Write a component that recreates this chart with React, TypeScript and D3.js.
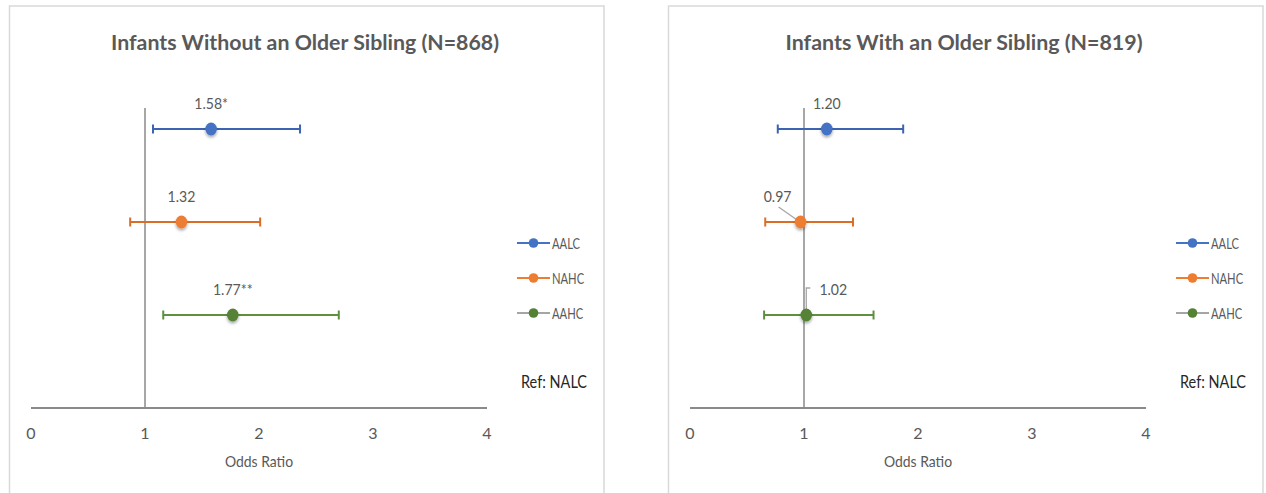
import React from "react";
import * as d3 from "d3";

// ---- data ----
const groups = ["AALC", "NAHC", "AAHC"];
const rowLevels = [3, 2, 1];
const xTicks = [0, 1, 2, 3, 4];
const refLevel = 1;

const titleWithout = "Infants Without an Older Sibling (N=868)";
const orWithout = [1.58, 1.32, 1.77];
const lowerWithout = [1.07, 0.87, 1.16];
const upperWithout = [2.36, 2.01, 2.7];
const labelsWithout = ["1.58*", "1.32", "1.77**"];

const titleWith = "Infants With an Older Sibling (N=819)";
const orWith = [1.2, 0.97, 1.02];
const lowerWith = [0.77, 0.66, 0.65];
const upperWith = [1.87, 1.43, 1.61];
const labelsWith = ["1.20", "0.97", "1.02"];

const xAxisTitle = "Odds Ratio";
const refNote = "Ref: NALC";

// ---- styles ----
const markerColors = ["#4472C4", "#ED7D31", "#548235"];
const barColors = ["#3C64B0", "#DA6E26", "#5E9040"];
const legendLineColors = ["#4472C4", "#ED7D31", "#A5A5A5"];
const FONT = "Lato, 'Open Sans', sans-serif";
const TEXT = "#595959";

type LabelStyle = { dx: number; leader?: "diag" | "elbow" };

type PanelProps = {
  x0: number;
  title: string;
  titleLen: number;
  or: number[];
  lower: number[];
  upper: number[];
  labels: string[];
  labelStyles: LabelStyle[];
  fid: string;
};

function Panel({ x0, title, titleLen, or, lower, upper, labels, labelStyles, fid }: PanelProps) {
  const x = d3.scaleLinear().domain([0, 4]).range([x0 + 31, x0 + 487]);
  const y = d3.scaleLinear().domain([0, 4]).range([408, 36]);
  const axisY = y(0);
  const legendYs = [243, 278, 313];
  return (
    <g>
      <rect x={x0 + 9.5} y={6} width={594.5} height={500} fill="#fff" stroke="#d9d9d9" strokeWidth={1.5} />
      <text
        x={x0 + 305}
        y={50}
        textAnchor="middle"
        fontFamily={FONT}
        fontWeight={700}
        fontSize={21}
        fill={TEXT}
        textLength={titleLen}
        lengthAdjust="spacingAndGlyphs"
      >
        {title}
      </text>
      {/* reference line */}
      <line x1={x(refLevel)} x2={x(refLevel)} y1={108} y2={axisY} stroke="#8a8a8a" strokeWidth={1.5} />
      {/* x axis */}
      <line x1={x(0)} x2={x(4)} y1={axisY} y2={axisY} stroke="#8a8a8a" strokeWidth={2} />
      {xTicks.map((t) => (
        <text key={t} x={x(t)} y={439} textAnchor="middle" fontFamily={FONT} fontSize={16} fill={TEXT}>
          {t}
        </text>
      ))}
      <text
        transform={`translate(${x(2)},467) scale(0.87,1)`}
        textAnchor="middle"
        fontFamily={FONT}
        fontSize={16}
        fill={TEXT}
      >
        {xAxisTitle}
      </text>
      {/* error bars */}
      {groups.map((g, i) => {
        const cy = y(rowLevels[i]);
        const c = barColors[i];
        return (
          <g key={g}>
            <line x1={x(lower[i])} x2={x(upper[i])} y1={cy} y2={cy} stroke={c} strokeWidth={2} />
            <line x1={x(lower[i])} x2={x(lower[i])} y1={cy - 4.5} y2={cy + 4.5} stroke={c} strokeWidth={2} />
            <line x1={x(upper[i])} x2={x(upper[i])} y1={cy - 4.5} y2={cy + 4.5} stroke={c} strokeWidth={2} />
          </g>
        );
      })}
      {/* leaders */}
      {groups.map((g, i) => {
        const cy = y(rowLevels[i]);
        const cx = x(or[i]);
        const ls = labelStyles[i];
        if (ls.leader === "diag") {
          return <line key={g} x1={cx - 22} y1={cy - 15} x2={cx - 2} y2={cy - 1} stroke="#a6a6a6" strokeWidth={1.3} />;
        }
        if (ls.leader === "elbow") {
          return (
            <polyline
              key={g}
              points={`${cx + 4},${cy - 27} ${cx},${cy - 27} ${cx},${cy}`}
              fill="none"
              stroke="#a6a6a6"
              strokeWidth={1.3}
            />
          );
        }
        return null;
      })}
      {/* markers */}
      {groups.map((g, i) => (
        <ellipse
          key={g}
          cx={x(or[i])}
          cy={y(rowLevels[i])}
          rx={5.8}
          ry={6.5}
          fill={markerColors[i]}
          filter={`url(#${fid})`}
        />
      ))}
      {/* data labels */}
      {groups.map((g, i) => (
        <text
          key={g}
          transform={`translate(${x(or[i]) + labelStyles[i].dx},${y(rowLevels[i]) - 20}) scale(0.88,1)`}
          textAnchor="middle"
          fontFamily={FONT}
          fontSize={16}
          fill={TEXT}
        >
          {labels[i]}
        </text>
      ))}
      {/* legend */}
      {groups.map((g, i) => (
        <g key={g}>
          <line x1={x0 + 517} x2={x0 + 550} y1={legendYs[i]} y2={legendYs[i]} stroke={legendLineColors[i]} strokeWidth={2} />
          <circle cx={x0 + 533.5} cy={legendYs[i]} r={4.8} fill={markerColors[i]} />
          <text
            transform={`translate(${x0 + 552},${legendYs[i] + 6}) scale(0.7,1)`}
            fontFamily={FONT}
            fontSize={16}
            fill={TEXT}
          >
            {g}
          </text>
        </g>
      ))}
      <text x={x0 + 521} y={388} fontFamily={FONT} fontSize={17} fill="#262626" textLength={66} lengthAdjust="spacingAndGlyphs">
        {refNote}
      </text>
    </g>
  );
}

export default function App() {
  return (
    <div style={{ position: "fixed", left: 0, top: 0, width: 1266, height: 493, background: "#fff" }}>
      <svg width={1266} height={493} style={{ display: "block" }}>
        <defs>
          {["sh0", "sh1"].map((id) => (
            <filter key={id} id={id} x="-50%" y="-50%" width="200%" height="220%">
              <feDropShadow dx={0} dy={2} stdDeviation={1.4} floodColor="#000" floodOpacity={0.35} />
            </filter>
          ))}
        </defs>
        <rect width={1266} height={493} fill="#fff" />
        <Panel
          x0={0}
          title={titleWithout}
          titleLen={388}
          or={orWithout}
          lower={lowerWithout}
          upper={upperWithout}
          labels={labelsWithout}
          labelStyles={[{ dx: 0 }, { dx: 0 }, { dx: 0 }]}
          fid="sh0"
        />
        <Panel
          x0={659}
          title={titleWith}
          titleLen={357}
          or={orWith}
          lower={lowerWith}
          upper={upperWith}
          labels={labelsWith}
          labelStyles={[{ dx: 0 }, { dx: -23, leader: "diag" }, { dx: 27, leader: "elbow" }]}
          fid="sh1"
        />
      </svg>
    </div>
  );
}
